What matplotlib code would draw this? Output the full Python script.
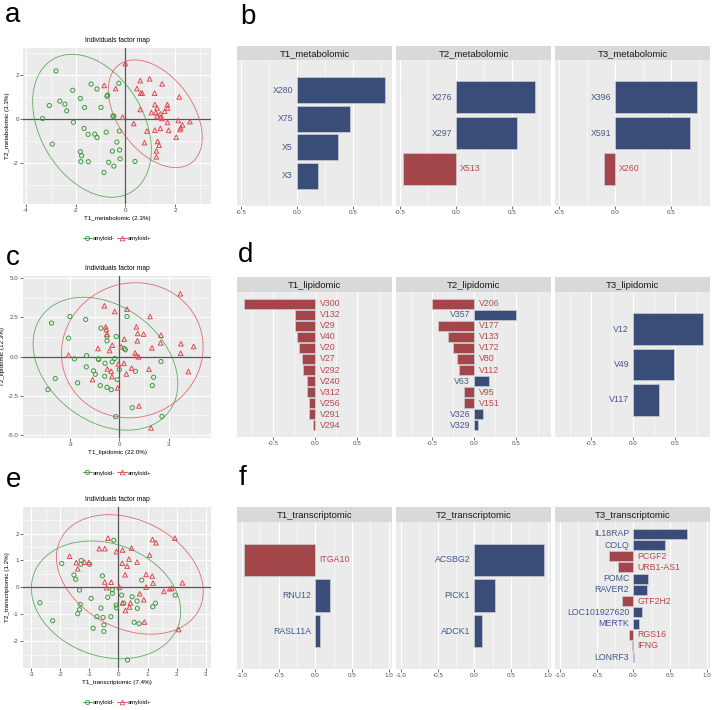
import numpy as np
import matplotlib.pyplot as plt
from matplotlib.lines import Line2D

plt.rcParams['font.family'] = ['Liberation Sans', 'DejaVu Sans']
plt.rcParams['axes.unicode_minus'] = False

# ---- panel a: metabolomic scores ----
a_neg_x = [-2.79, -1.38, -1.14, -2.12, -0.26, -0.71, -0.74, -1.81, -2.64, -2.43, -3.06, -1.64, -0.98,
           -2.36, -0.50, -0.46, -3.33, -2.09, -1.66, -1.50, -1.23, -1.14, -0.77, -0.24, -0.34, -2.94,
           -0.23, -0.52, -1.81, -1.76, -1.79, -1.49, -0.21, -0.67, -0.46, 0.39, -0.86]
a_neg_y = [2.19, 1.59, 1.37, 1.31, 1.63, 1.09, 1.04, 0.94, 0.82, 0.68, 0.62, 0.53, 0.53,
           0.38, 0.14, 0.14, 0.03, -0.14, -0.42, -0.69, -0.68, -0.83, -0.59, -0.54, -1.04, -1.13,
           -1.40, -1.45, -1.48, -1.66, -1.93, -1.93, -1.80, -1.96, -2.13, -1.92, -2.42]
a_pos_x = [0.00, -0.85, -0.39, 0.60, 0.98, 1.48, 0.47, 0.62, 0.68, 1.18, 2.17, 1.69, 1.70, 1.28,
           1.19, 0.60, 1.05, 1.23, 1.41, 1.58, 1.28, 1.42, 1.48, -0.11, 0.34, 1.70, 2.13, 2.60,
           2.30, 2.23, 2.20, 1.41, 1.74, 1.19, 0.87, 2.05, 0.77, 1.30, 1.36, 1.25, 1.25]
a_pos_y = [2.52, 1.53, 1.39, 1.75, 1.83, 1.60, 1.39, 1.18, 1.18, 1.18, 1.01, 0.66, 0.50, 0.51,
           0.66, 0.44, 0.30, 0.30, 0.24, 0.36, 0.15, 0.08, 0.03, 0.09, -0.20, -0.15, -0.06, -0.11,
           -0.26, -0.39, -0.47, -0.42, -0.51, -0.50, -0.54, -0.82, -1.07, -1.01, -1.18, -1.44, -1.71]

# ---- panel c: lipidomic scores ----
c_neg_x = [-4.13, -3.01, -2.05, 0.47, -3.09, -1.12, -0.75, -0.75, -0.18, 0.30, 0.37, -2.74, -1.99,
           -1.28, -1.26, -0.28, -0.43, -0.87, -2.01, -1.57, -1.46, -2.54, -3.90, -4.35, -0.89, 0.00,
           -0.12, -1.16, -0.75, -0.49, 0.98, 2.09, 2.01, 2.54, 0.79, -0.22, 2.60]
c_neg_y = [2.13, 2.55, 2.36, 2.55, 1.17, 1.81, 1.00, 1.28, 1.28, 0.51, 0.43, -0.15, 0.06,
           -0.15, -0.19, -0.13, -0.34, -0.43, -0.66, -0.91, -1.13, -1.68, -1.40, -2.11, -1.26, -0.83,
           -1.47, -1.85, -1.96, -2.11, -0.94, -1.32, -1.85, -0.32, -3.26, -3.83, -3.81]
c_pos_x = [3.72, -0.91, -0.28, 0.47, 1.87, -0.83, -0.79, -0.75, 1.04, 1.12, 1.48, 2.54, 0.30, 1.10,
           -0.43, -1.30, -0.59, 0.12, 1.99, 2.52, 3.76, 4.53, 3.74, -3.09, 0.96, 1.04, 1.18, -0.06,
           0.28, -0.73, -0.49, 0.75, 1.81, 0.43, -0.45, -1.63, 4.21, -0.10, 1.20, 1.93]
c_pos_y = [4.00, 3.23, 2.87, 3.02, 2.55, 1.89, 1.72, 1.43, 1.89, 1.47, 1.43, 1.36, 1.11, 1.00,
           0.72, 0.51, 0.38, 0.62, 0.55, 0.87, 0.81, 0.64, 0.21, 0.09, 0.23, 0.06, -0.02, -0.47,
           -0.43, -0.79, -0.94, -0.74, -0.81, -1.11, -1.28, -1.47, -0.96, -2.00, -3.15, -4.55]

# ---- panel e: transcriptomic scores ----
e_neg_x = [-0.16, -1.28, -1.29, -0.99, -1.95, -1.53, -1.47, -0.55, -1.34, -0.21, -0.21, -0.37, -0.94,
           -1.31, -1.34, -1.40, -0.60, -0.08, -0.07, 0.11, 0.18, 0.47, 0.64, 0.65, 0.80, 1.27, 1.18,
           1.95, -0.74, -0.53, -0.26, 0.54, 0.71, -0.50, -0.50, -0.87, -2.70, -2.26, 0.31]
e_neg_y = [1.75, 1.00, 0.86, 0.86, 0.89, 0.46, 0.30, 0.43, -0.10, -0.09, -0.22, -0.37, -0.41,
           -0.63, -0.83, -0.98, -0.77, -0.66, -0.76, -0.29, -0.59, -0.35, -0.51, -0.78, 0.27, -0.59, -0.72,
           -0.29, -1.09, -1.12, -1.09, -1.30, -1.35, -1.40, -1.64, -1.52, -0.57, -1.24, -2.70]
e_pos_x = [-0.36, -0.66, -0.47, -0.07, 0.14, 0.45, 1.17, 1.29, 1.94, 1.07, -1.68, -1.45, -1.40, -1.17,
           -1.02, 0.36, 0.13, 0.30, 0.64, 0.23, 0.95, 1.16, 1.19, -0.47, -0.25, -0.41, 0.03, 0.95,
           1.56, 1.76, 1.83, 2.20, 0.73, 0.87, 0.41, 0.38, 0.14, 0.24, 0.89, 2.07]
e_pos_y = [1.83, 1.44, 1.44, 1.33, 1.39, 1.46, 1.78, 1.66, 1.83, 1.20, 1.16, 0.92, 0.69, 0.94,
           0.93, 1.05, 0.90, 0.79, 0.94, 0.47, 0.48, 0.42, 0.16, 0.20, 0.19, -0.01, 0.01, 0.01,
           -0.15, -0.05, -0.04, 0.17, -0.24, -0.46, -0.58, -0.73, -0.58, -0.86, -1.29, -1.57]

# ---- loadings ----
b_titles = ['T1_metabolomic', 'T2_metabolomic', 'T3_metabolomic']
b_names = [['X280', 'X75', 'X5', 'X3'], ['X276', 'X297', 'X513'], ['X396', 'X591', 'X260']]
b_vals = [[0.786, 0.47, 0.36, 0.19], [0.70, 0.54, -0.47], [0.73, 0.67, -0.097]]

d_titles = ['T1_lipidomic', 'T2_lipidomic', 'T3_lipidomic']
d_names = [['V300', 'V132', 'V29', 'V40', 'V20', 'V27', 'V292', 'V240', 'V312', 'V256', 'V291', 'V294'],
           ['V206', 'V357', 'V177', 'V133', 'V172', 'V80', 'V112', 'V63', 'V95', 'V151', 'V326', 'V329'],
           ['V12', 'V49', 'V117']]
d_vals = [[-0.85, -0.237, -0.237, -0.217, -0.198, -0.154, -0.146, -0.099, -0.099, -0.079, -0.071, -0.028],
          [-0.50, 0.496, -0.437, -0.31, -0.25, -0.20, -0.187, 0.175, -0.12, -0.12, 0.10, 0.044],
          [0.83, 0.48, 0.31]]

f_titles = ['T1_transcriptomic', 'T2_transcriptomic', 'T3_transcriptomic']
f_names = [['ITGA10', 'RNU12', 'RASL11A'], ['ACSBG2', 'PICK1', 'ADCK1'],
           ['IL18RAP', 'COLQ', 'PCGF2', 'URB1-AS1', 'POMC', 'RAVER2', 'GTF2H2', 'LOC101927620',
            'MERTK', 'RGS16', 'IFNG', 'LONRF3']]
f_vals = [[-0.98, 0.20, 0.064], [0.95, 0.277, 0.109],
          [0.736, 0.427, -0.336, -0.214, 0.205, 0.18, -0.155, 0.118, 0.077, -0.059, -0.018, 0.009]]

W, H = 714, 710
fig = plt.figure(figsize=(W / 100, H / 100), dpi=100)

GREEN = '#3C9A3C'
RED = '#DD4B50'
BLUE_BAR = '#3A4D78'
RED_BAR = '#A2464A'
BLUE_TXT = '#43588A'
RED_TXT = '#B5484B'


def fax(x0, y0, x1, y1):
    return fig.add_axes([x0 / W, 1 - y1 / H, (x1 - x0) / W, (y1 - y0) / H])


def ellipse(ax, x, y, color, level=0.95):
    # 95% normal ellipse (stat_ellipse type = "norm")
    pts = np.column_stack([x, y])
    n = len(pts)
    loc = pts.mean(axis=0)
    cov = np.cov(pts.T)
    dfd = n - 1
    qf = dfd / 2 * ((1 - level) ** (-2 / dfd) - 1)   # F(2, n-1) quantile
    r = np.sqrt(2 * qf)
    vals, vecs = np.linalg.eigh(cov)
    t = np.linspace(0, 2 * np.pi, 200)
    circ = np.vstack([np.cos(t), np.sin(t)]) * np.sqrt(vals)[:, None] * r
    e = vecs @ circ
    ax.plot(e[0] + loc[0], e[1] + loc[1], color=color, lw=0.6, alpha=0.8)


def scatter_panel(box, gx, gy, rx, ry, xlab, ylab, xlim, ylim, xt, yt, xm, ym, ytl, leg_y):
    ax = fax(*box)
    ax.set_facecolor('#EBEBEB')
    ax.set_xticks(xt)
    ax.set_yticks(yt)
    ax.set_yticklabels(ytl)
    ax.set_xticks(xm, minor=True)
    ax.set_yticks(ym, minor=True)
    ax.grid(which='major', color='white', lw=0.8)
    ax.grid(which='minor', color='white', lw=0.4)
    ax.set_axisbelow(True)
    ax.axhline(0, color='#555555', lw=0.9)
    ax.axvline(0, color='#555555', lw=0.9)
    ax.scatter(gx, gy, marker='o', facecolors='none', edgecolors=GREEN, s=9, lw=0.7, zorder=3)
    ax.scatter(rx, ry, marker='^', facecolors='none', edgecolors=RED, s=11, lw=0.7, zorder=3)
    ellipse(ax, gx, gy, GREEN)
    ellipse(ax, rx, ry, RED)
    ax.set_xlim(xlim)
    ax.set_ylim(ylim)
    for s in ax.spines.values():
        s.set_visible(False)
    ax.tick_params(which='major', length=2, width=0.5, color='#333333', labelsize=4.5,
                   labelcolor='#4D4D4D', pad=1)
    ax.tick_params(which='minor', length=0)
    ax.set_title('Individuals factor map', fontsize=4.8, pad=4)
    ax.set_xlabel(xlab, fontsize=4.5, labelpad=2)
    ax.set_ylabel(ylab, fontsize=4.5, labelpad=2)
    handles = [Line2D([], [], color=GREEN, marker='o', mfc='none', lw=0.6, ms=3, mew=0.6),
               Line2D([], [], color=RED, marker='^', mfc='none', lw=0.6, ms=3.4, mew=0.6)]
    fig.legend(handles, ['amyloid-', 'amyloid+'], loc='center', bbox_to_anchor=(117 / W, 1 - leg_y / H),
               ncol=2, frameon=False, fontsize=4.2, handlelength=1.6, columnspacing=0.4,
               handletextpad=0.2)


def bar_row(st, sb, pb, titles, names, vals, xlim, xt, xm, xtl):
    for (x0, x1), title, nm, v in zip([(237, 392), (396, 551), (555, 710)], titles, names, vals):
        sax = fax(x0, st, x1, sb)
        sax.set_facecolor('#D9D9D9')
        sax.set_xticks([]); sax.set_yticks([])
        for s in sax.spines.values():
            s.set_visible(False)
        sax.text(0.5, 0.45, title, ha='center', va='center', fontsize=6.8, color='#1A1A1A',
                 transform=sax.transAxes)
        ax = fax(x0, sb, x1, pb)
        ax.set_facecolor('#EBEBEB')
        n = len(nm)
        ypos = np.arange(n, 0, -1)
        cols = [BLUE_BAR if val > 0 else RED_BAR for val in v]
        ax.barh(ypos, v, height=0.9, color=cols, edgecolor='#C9CCD6', lw=0.5, zorder=3)
        for name, val, yy in zip(nm, v, ypos):
            if val > 0:
                ax.annotate(name, (0, yy), xytext=(-3, 0), textcoords='offset points', ha='right',
                            va='center', fontsize=6.3, color=BLUE_TXT, zorder=4)
            else:
                ax.annotate(name, (0, yy), xytext=(3, 0), textcoords='offset points', ha='left',
                            va='center', fontsize=6.3, color=RED_TXT, zorder=4)
        ax.set_xlim(xlim)
        ax.set_ylim(-0.05, n + 1.05)
        ax.set_xticks(xt)
        ax.set_xticklabels(xtl)
        ax.set_xticks(xm, minor=True)
        ax.set_yticks([])
        ax.grid(axis='x', which='major', color='white', lw=0.8)
        ax.grid(axis='x', which='minor', color='white', lw=0.4)
        ax.set_axisbelow(True)
        for s in ax.spines.values():
            s.set_visible(False)
        ax.tick_params(axis='x', which='major', length=2, width=0.5, color='#333333', labelsize=4.5,
                       labelcolor='#4D4D4D', pad=1)
        ax.tick_params(axis='x', which='minor', length=0)


# scatter panels
scatter_panel((23, 48, 211, 204), a_neg_x, a_neg_y, a_pos_x, a_pos_y,
              'T1_metabolomic (2.3%)', 'T2_metabolomic (3.3%)', (-4.12, 3.45), (-3.85, 3.23),
              [-4, -2, 0, 2], [-2, 0, 2], [-3, -1, 1, 3], [-3, -1, 1, 3], ['-2', '0', '2'], 238)
scatter_panel((23, 276, 211, 438), c_neg_x, c_neg_y, c_pos_x, c_pos_y,
              'T1_lipidomic (22.0%)', 'T2_lipidomic (12.3%)', (-5.87, 5.59), (-5.19, 5.13),
              [-3, 0, 3], [-5, -2.5, 0, 2.5, 5], [-4.5, -1.5, 1.5, 4.5], [-3.75, -1.25, 1.25, 3.75],
              ['-5.0', '-2.5', '0.0', '2.5', '5.0'], 473)
scatter_panel((23, 507, 211, 668), e_neg_x, e_neg_y, e_pos_x, e_pos_y,
              'T1_transcriptomic (7.4%)', 'T2_transcriptomic (1.2%)', (-3.28, 3.18), (-3.0, 2.99),
              [-3, -2, -1, 0, 1, 2, 3], [-2, -1, 0, 1, 2], [-2.5, -1.5, -0.5, 0.5, 1.5, 2.5],
              [-2.5, -1.5, -0.5, 0.5, 1.5, 2.5], ['-2', '-1', '0', '1', '2'], 702)

# loading bar panels
bar_row(46, 60, 206, b_titles, b_names, b_vals, (-0.535, 0.845), [-0.5, 0, 0.5],
        [-0.25, 0.25, 0.75], ['-0.5', '0.0', '0.5'])
bar_row(277, 292, 437, d_titles, d_names, d_vals, (-0.93, 0.91), [-0.5, 0, 0.5],
        [-0.75, -0.25, 0.25, 0.75], ['-0.5', '0.0', '0.5'])
bar_row(507, 522, 669, f_titles, f_names, f_vals, (-1.07, 1.045), [-1, -0.5, 0, 0.5, 1],
        [-0.75, -0.25, 0.25, 0.75], ['-1.0', '-0.5', '0.0', '0.5', '1.0'])

# panel letters
for letter, x, y in [('a', 5, 22), ('b', 240, 24), ('c', 6, 265), ('d', 238, 262),
                     ('e', 6, 487), ('f', 239, 485)]:
    fig.text(x / W, 1 - y / H, letter, fontsize=20, va='baseline', ha='left')

fig.savefig('out.png', dpi=100)
